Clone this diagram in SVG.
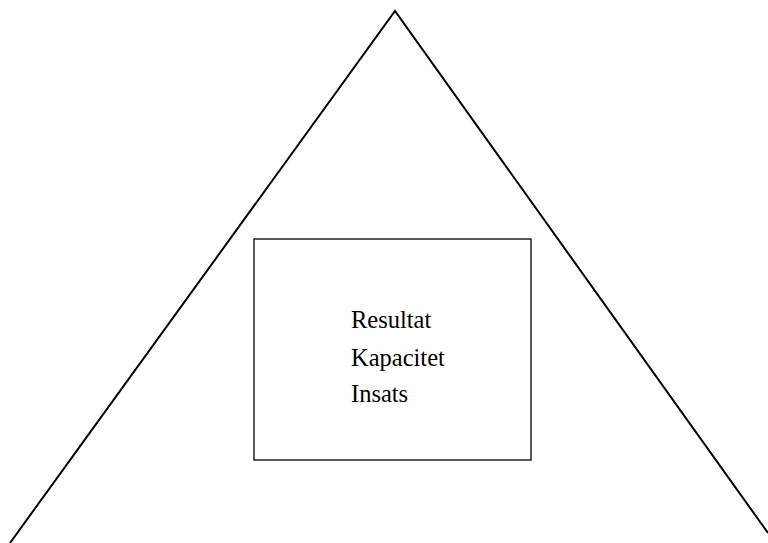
<svg xmlns="http://www.w3.org/2000/svg" width="768" height="543" viewBox="0 0 768 543">
<style>
.ln{fill:none;stroke:#000;stroke-width:2}
.bx{fill:#fff;stroke:#000;stroke-width:1.3}
.t{font-family:"Liberation Serif","Times New Roman",serif;font-size:24.5px;fill:#000}
</style>
<rect width="768" height="543" fill="#fff"/>
<g id="triangle"><polyline class="ln" points="10,543 395,11 768,533"/></g>
<g id="box">
<rect class="bx" x="254" y="239" width="277" height="221"/>
<text class="t" x="351" y="328">Resultat</text>
<text class="t" x="351" y="366">Kapacitet</text>
<text class="t" x="351" y="402">Insats</text>
</g>
</svg>
